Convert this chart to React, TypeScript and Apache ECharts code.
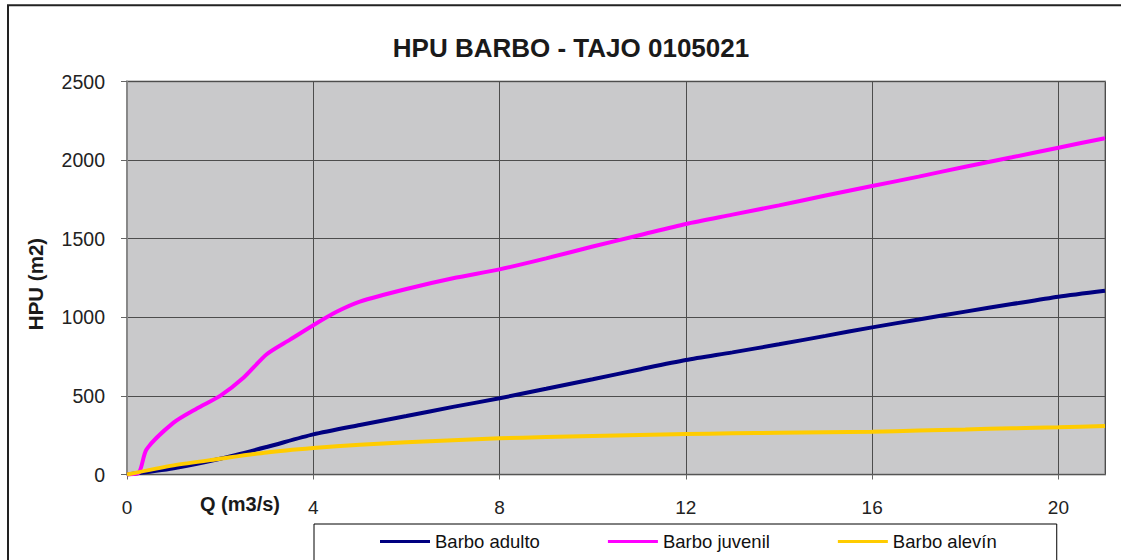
import React, { useEffect, useRef } from "react";
import * as echarts from "echarts";

const TITLE = "HPU BARBO - TAJO 0105021";
const X_NAME = "Q (m3/s)";
const Y_NAME = "HPU (m2)";
const SERIES_NAMES = ["Barbo adulto", "Barbo juvenil", "Barbo alevín"];
const COLORS = ["#000080", "#FF00FF", "#FFCC00"];

const qCommon = [0, 1, 2, 3, 4, 5, 6, 7, 8, 9, 10, 11, 12, 13, 14, 15, 16, 17, 18, 19, 20, 21];
const adulto = [0, 40, 100, 175, 255, 315, 372, 430, 485, 545, 606, 668, 728, 777, 828, 882, 936, 986, 1036, 1084, 1131, 1169];
const alevin = [0, 58, 100, 140, 168, 190, 205, 218, 230, 238, 245, 251, 257, 262, 266, 269, 272, 280, 287, 294, 300, 308];

const qJuvenil = [0, 0.25, 0.42, 1, 1.5, 2, 2.5, 3, 3.5, 4, 4.5, 5, 6, 7, 8, 9, 10, 11, 12, 13, 14, 15, 16, 17, 18, 19, 20, 21];
const juvenil = [0, 10, 160, 330, 420, 500, 615, 765, 858, 950, 1035, 1100, 1180, 1248, 1305, 1375, 1450, 1522, 1594, 1653, 1712, 1775, 1835, 1895, 1958, 2018, 2079, 2139];

const X_MIN = 0;
const X_MAX = 21;
const X_STEP = 4;
const Y_MIN = 0;
const Y_MAX = 2500;
const Y_STEP = 500;

function pairs(xs: number[], ys: number[]) {
  return xs.map((x, i) => [x, ys[i]]);
}

export default function App() {
  const ref = useRef<HTMLDivElement>(null);
  useEffect(() => {
    if (!ref.current) return;
    const chart = echarts.init(ref.current, null, { renderer: "svg" });
    const font = "Liberation Sans, Arial, sans-serif";
    const seriesData = [pairs(qCommon, adulto), pairs(qJuvenil, juvenil), pairs(qCommon, alevin)];
    chart.setOption({
      animation: false,
      backgroundColor: "#ffffff",
      textStyle: { fontFamily: font },
      title: {
        text: TITLE,
        left: 566,
        top: 30,
        textAlign: "center",
        textStyle: { fontSize: 26, fontWeight: "bold", color: "#1a1a1a", fontFamily: font },
      },
      grid: {
        left: 127,
        top: 81.5,
        right: 16,
        bottom: 85.5,
        show: true,
        backgroundColor: "#C9C9CB",
        borderColor: "#999999",
        borderWidth: 2,
      },
      legend: {
        left: 314,
        top: 524,
        orient: "horizontal",
        data: SERIES_NAMES.map((n) => ({ name: n, icon: "rect" })),
        itemWidth: 50,
        itemHeight: 3,
        itemGap: 68,
        padding: [8, 60, 22, 66],
        backgroundColor: "#ffffff",
        borderColor: "#000000",
        borderWidth: 1,
        textStyle: { fontSize: 18.5, color: "#111", fontFamily: font },
      },
      xAxis: {
        type: "value",
        min: X_MIN,
        max: X_MAX,
        interval: X_STEP,
        axisLine: { show: true, onZero: false, lineStyle: { color: "#555", width: 1 } },
        axisTick: { show: true, length: 5, lineStyle: { color: "#666" } },
        axisLabel: { margin: 23, fontSize: 19, color: "#222", showMaxLabel: false, fontFamily: font },
        splitLine: { show: true, lineStyle: { color: "#4D4D4D", width: 1 } },
      },
      yAxis: {
        type: "value",
        min: Y_MIN,
        max: Y_MAX,
        interval: Y_STEP,
        axisLine: { show: true, lineStyle: { color: "#888", width: 2 } },
        axisTick: { show: true, length: 6, lineStyle: { color: "#666" } },
        axisLabel: {
          margin: 22,
          fontSize: 19.5,
          color: "#222",
          fontFamily: font,
          formatter: (v: number) => String(v),
        },
        splitLine: { show: true, lineStyle: { color: "#4D4D4D", width: 1 } },
      },
      graphic: [
        {
          type: "rect",
          shape: { x: 8, y: 5.3, width: 1200, height: 700 },
          style: { fill: "none", stroke: "#222", lineWidth: 2 },
          silent: true,
          z: 100,
        },
        {
          type: "text",
          x: 240,
          y: 504,
          style: {
            text: X_NAME,
            fontSize: 20,
            fontWeight: "bold",
            fill: "#1a1a1a",
            fontFamily: font,
            textAlign: "center",
            textVerticalAlign: "middle",
          },
        },
        {
          type: "text",
          x: 35,
          y: 284,
          rotation: Math.PI / 2,
          style: {
            text: Y_NAME,
            fontSize: 20.5,
            fontWeight: "bold",
            fill: "#1a1a1a",
            fontFamily: font,
            textAlign: "center",
            textVerticalAlign: "middle",
          },
        },
      ],
      series: SERIES_NAMES.map((name, i) => ({
        name,
        type: "line",
        data: seriesData[i],
        showSymbol: false,
        symbol: "none",
        smooth: 0.25,
        clip: true,
        lineStyle: { color: COLORS[i], width: 4 },
        itemStyle: { color: COLORS[i] },
        z: 3 + i,
      })),
    });
    return () => chart.dispose();
  }, []);
  return (
    <div
      ref={ref}
      style={{ position: "absolute", left: 0, top: 0, width: 1121, height: 560, background: "#fff" }}
    />
  );
}
